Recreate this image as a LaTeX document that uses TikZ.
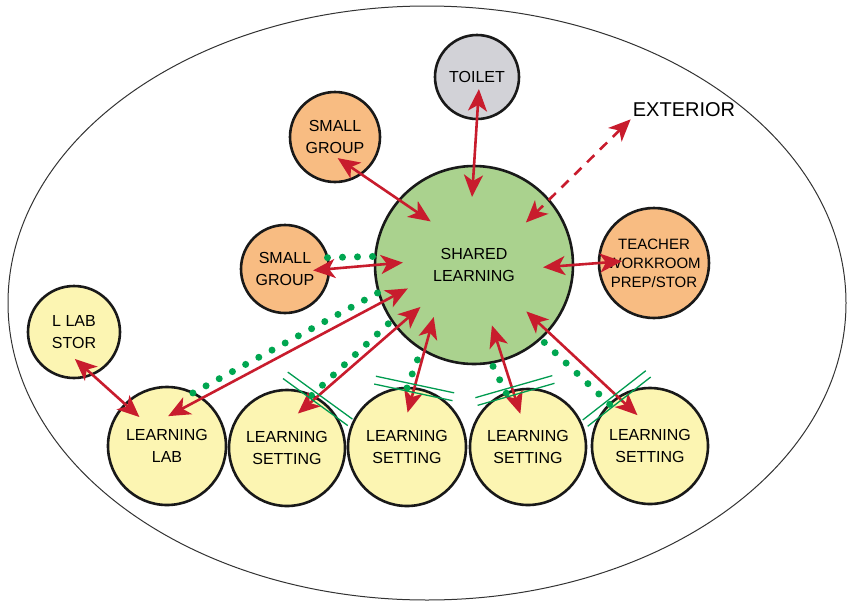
\documentclass[tikz,border=0pt]{standalone}
\usepackage{fontspec}
\setmainfont{Liberation Sans}
\usetikzlibrary{arrows.meta}
\definecolor{sharedgreen}{RGB}{170,210,142}
\definecolor{roomorange}{RGB}{248,188,130}
\definecolor{roomyellow}{RGB}{252,245,178}
\definecolor{toiletgray}{RGB}{210,210,215}
\definecolor{linkred}{RGB}{200,28,45}
\definecolor{dotgreen}{RGB}{0,166,80}
\definecolor{doorgreen}{RGB}{0,155,80}
\tikzset{
  room/.style={circle, draw=black!90, line width=2.6pt, inner sep=0pt, outer sep=0pt,
    align=center, text=black, font=\fontsize{16}{22}\selectfont},
  link/.style={{Stealth[length=22pt,width=19pt,inset=6pt]}-{Stealth[length=22pt,width=19pt,inset=6pt]},
    line width=2.6pt, draw=linkred},
  dots/.style={draw=dotgreen, line width=7pt, line cap=round, dash pattern=on 0pt off 15pt},
  door/.pic={\draw[doorgreen, line width=1.3pt] (-40pt,-4pt) -- (40pt,-4pt) (-40pt,4pt) -- (40pt,4pt);},
}
\begin{document}
\begin{tikzpicture}[x=1pt, y=-1pt]
      \useasboundingbox (0,0) rectangle (852,603);
      \draw[line width=1pt, black!80] (427,303) ellipse [x radius=419, y radius=297];
      \node[room, fill=sharedgreen, minimum size=198pt] (sl) at (474,265) {SHARED\\LEARNING};
      \node[room, fill=toiletgray, minimum size=84pt] (toilet) at (477,77) {TOILET};
      \node[room, fill=roomorange, minimum size=90pt] (sg1) at (335,137) {SMALL\\GROUP};
      \node[room, fill=roomorange, minimum size=88pt] (sg2) at (285,269) {SMALL\\GROUP};
      \node[room, fill=roomorange, minimum size=110pt, font=\fontsize{15}{19}\selectfont] (tw) at (654,263) {TEACHER\\WORKROOM\\PREP/STOR};
      \node[room, fill=roomyellow, minimum size=92pt] (stor) at (74,332) {L LAB\\STOR};
      \node[room, fill=roomyellow, minimum size=118pt] (ll) at (167,446) {LEARNING\\LAB};
      \node[room, fill=roomyellow, minimum size=116pt] (ls1) at (287,448) {LEARNING\\SETTING};
      \node[room, fill=roomyellow, minimum size=118pt] (ls2) at (407,447) {LEARNING\\SETTING};
      \node[room, fill=roomyellow, minimum size=116pt] (ls3) at (528,447) {LEARNING\\SETTING};
      \node[room, fill=roomyellow, minimum size=116pt] (ls4) at (650,446) {LEARNING\\SETTING};
      \node[inner sep=2pt, text=black, font=\fontsize{20}{24}\selectfont] (ext) at (684,110) {EXTERIOR};
      \begin{scope}
        \draw[dots] (sg2.15) -- (sl.175);
        \draw[dots] (ll.64) -- (sl.196);
        \draw[dots] (ls1.65) -- (sl.214);
        \draw[dots] (ls2.90) -- (sl.238);
        \draw[dots] (ls3.112) -- (sl.280);
        \draw[dots] (ls4.134) -- (sl.312);
      \end{scope}
      \begin{scope}
        \draw[link, shorten <=-30pt, shorten >=-31pt] (toilet.270) -- (sl.90);
        \draw[link, shorten <=-28pt, shorten >=-38pt] (sg1.305) -- (sl.139);
        \draw[link, dash pattern=on 10pt off 8pt, shorten >=-32pt] (ext.south west) -- (sl.41);
        \draw[link, shorten <=-16pt, shorten >=-28pt] (sg2.east) -- (sl.west);
        \draw[link, shorten <=-30pt, shorten >=-23pt] (sl.east) -- (tw.west);
        \draw[link, shorten <=-38pt, shorten >=-29pt] (ll.54) -- (sl.202);
        \draw[link, shorten <=-24pt, shorten >=-31pt] (ls1.60) -- (sl.219);
        \draw[link, shorten <=-25pt, shorten >=-35pt] (ls2.83) -- (sl.240);
        \draw[link, shorten <=-24pt, shorten >=-36pt] (ls3.105) -- (sl.287);
        \draw[link, shorten <=-26pt, shorten >=-29pt] (ls4.123) -- (sl.318);
        \draw[link, shorten <=-23pt, shorten >=-19pt] (stor.293) -- (ll.135);
      \end{scope}
      \pic[rotate=-36] at (ls1.58) {door};
      \pic[rotate=-12] at (ls2.83) {door};
      \pic[rotate=16] at (ls3.103) {door};
      \pic[rotate=38] at (ls4.125) {door};
    \end{tikzpicture}
\end{document}
